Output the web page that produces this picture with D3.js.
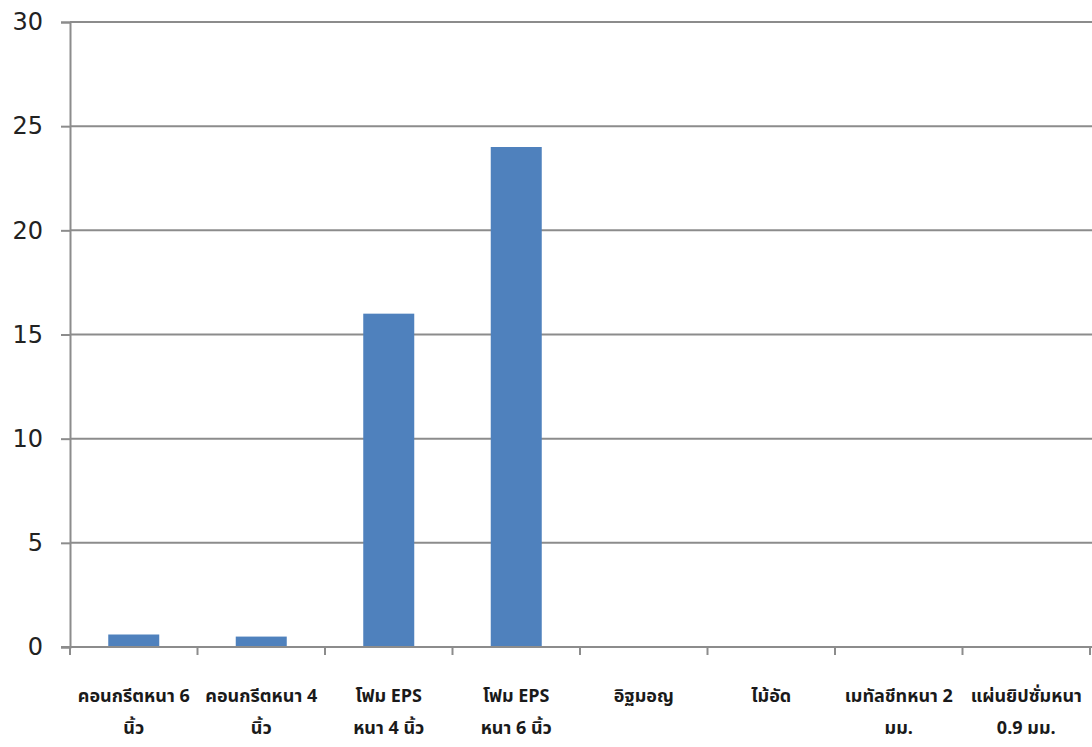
<!DOCTYPE html>
<html>
<head>
<meta charset="utf-8">
<script src="https://cdn.jsdelivr.net/npm/d3@7"></script>
<style>
  html, body { margin: 0; padding: 0; background: #fff; }
  svg { display: block; }
</style>
</head>
<body>
<svg id="chart" width="1092" height="747"></svg>
<script>
// Material names (line breaks where the axis label wraps)
const categories = [
  "คอนกรีตหนา 6\nนิ้ว",
  "คอนกรีตหนา 4\nนิ้ว",
  "โฟม EPS\nหนา 4 นิ้ว",
  "โฟม EPS\nหนา 6 นิ้ว",
  "อิฐมอญ",
  "ไม้อัด",
  "เมทัลชีทหนา 2\nมม.",
  "แผ่นยิปซั่มหนา\n0.9 มม."
];
const values = [0.6, 0.5, 16, 24, 0, 0, 0, 0];
const yTicks = [0, 5, 10, 15, 20, 25, 30];

const svg = d3.select("#chart");
const margin = { left: 70, right: 2, top: 22, bottom: 100 };
const W = 1092, H = 747;

const x = d3.scaleBand()
  .domain(categories)
  .range([margin.left, W - margin.right])
  .paddingInner(0.6)
  .paddingOuter(0.3);

const y = d3.scaleLinear()
  .domain([0, 30])
  .range([H - margin.bottom, margin.top]);

// horizontal gridlines
svg.append("g")
  .selectAll("line")
  .data(yTicks.filter(d => d > 0))
  .join("line")
  .attr("x1", margin.left)
  .attr("x2", W)
  .attr("y1", d => y(d))
  .attr("y2", d => y(d))
  .attr("stroke", "#8c8c8c")
  .attr("stroke-width", 2);

// bars
svg.append("g")
  .selectAll("rect")
  .data(values.map((v, i) => ({ c: categories[i], v })))
  .join("rect")
  .attr("x", d => x(d.c))
  .attr("width", x.bandwidth())
  .attr("y", d => y(d.v))
  .attr("height", d => y(0) - y(d.v))
  .attr("fill", "#4f81bd");

// y axis
const yAxis = svg.append("g")
  .attr("transform", `translate(${margin.left},0)`)
  .call(d3.axisLeft(y).tickValues(yTicks).tickSize(9).tickPadding(18));
yAxis.selectAll("path, line").attr("stroke", "#8c8c8c").attr("stroke-width", 2);
yAxis.selectAll("text")
  .attr("font-family", "'DejaVu Sans', Verdana, sans-serif")
  .attr("font-size", 24)
  .attr("fill", "#222");

// x axis with tick marks at category boundaries
const boundaries = d3.range(categories.length + 1)
  .map(i => margin.left + i * (W - margin.right - margin.left) / categories.length);
const xAxisG = svg.append("g");
xAxisG.append("line")
  .attr("x1", margin.left - 9).attr("x2", W)
  .attr("y1", y(0)).attr("y2", y(0))
  .attr("stroke", "#8c8c8c").attr("stroke-width", 2);
xAxisG.selectAll("line.tick")
  .data(boundaries)
  .join("line")
  .attr("class", "tick")
  .attr("x1", d => d).attr("x2", d => d)
  .attr("y1", y(0)).attr("y2", y(0) + 8)
  .attr("stroke", "#8c8c8c").attr("stroke-width", 2);

// category labels
const labels = xAxisG.selectAll("text")
  .data(categories)
  .join("text")
  .attr("text-anchor", "middle")
  .attr("font-family", "'Noto Sans Thai', 'Noto Sans', sans-serif")
  .attr("font-weight", "bold")
  .attr("font-size", 18)
  .attr("fill", "#1a1a1a")
  .attr("transform", d => `translate(${x(d) + x.bandwidth() / 2},0)`);
labels.selectAll("tspan")
  .data(d => d.split("\n"))
  .join("tspan")
  .attr("x", 0)
  .attr("y", (d, i) => y(0) + 55 + i * 32)
  .text(d => d);
</script>
</body>
</html>
